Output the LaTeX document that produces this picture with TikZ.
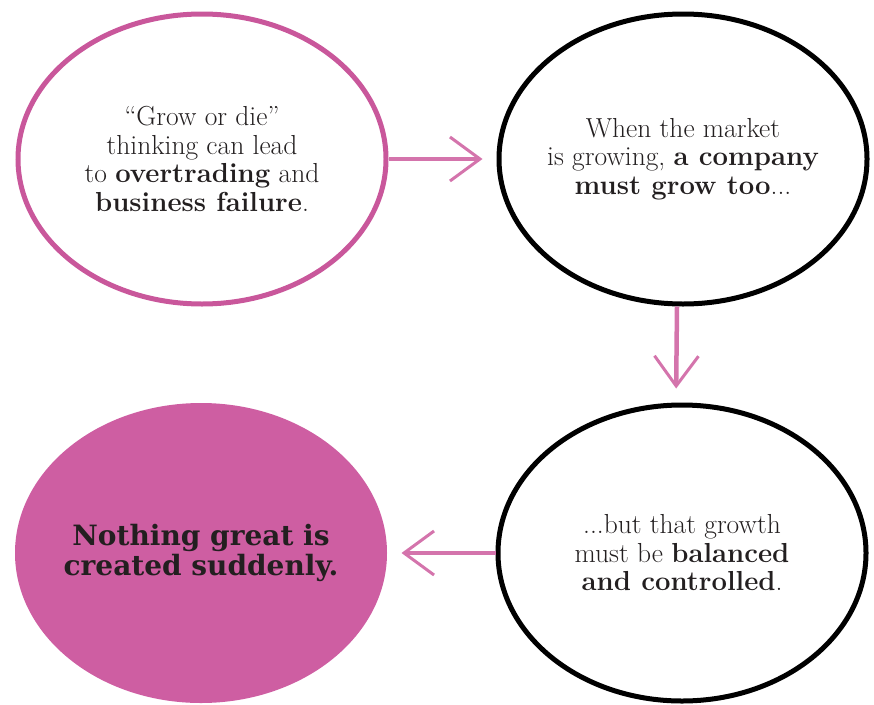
\documentclass[tikz,border=0pt]{standalone}
\usepackage{fontspec}
\usetikzlibrary{shapes.geometric,arrows.meta}
\definecolor{pinkline}{HTML}{C9579B}
\definecolor{pinkfill}{HTML}{CE5EA2}
\definecolor{pinkarrow}{HTML}{D474AC}
\definecolor{ink}{HTML}{231F20}
\newfontfamily\slabfont{DejaVu Serif}
\begin{document}
\begin{tikzpicture}[x=1pt,y=-1pt,
  bubble/.style={ellipse, inner sep=0pt, line width=5pt},
  bubbletext/.style={align=center, text=ink, inner sep=0pt,
    font=\fontsize{27.5}{28.5}\selectfont},
  bigtext/.style={align=center, text=ink, inner sep=0pt,
    font=\slabfont\bfseries\fontsize{28}{30}\selectfont},
  link/.style={pinkarrow, line width=4.5pt,
    -{Straight Barb[length=30pt,width=44pt,line width=3pt]}}]
\useasboundingbox (0,0) rectangle (874,704);
\node[bubble, draw=pinkline, minimum width=368pt, minimum height=290pt,
  label={[bubbletext, name=growtext]center:{“Grow or die”\\thinking can lead\\to \textbf{overtrading} and\\\textbf{business failure}.}}] (grow) at (202,159) {};
\node[bubble, draw=black, minimum width=368pt, minimum height=290pt,
  label={[bubbletext, name=markettext]center:{When the market\\is growing, \textbf{a company}\\\textbf{must grow too}...}}] (market) at (683,159) {};
\node[bubble, draw=black, minimum width=368pt, minimum height=296pt,
  label={[bubbletext, name=balancetext]center:{...but that growth\\must be \textbf{balanced}\\\textbf{and controlled}.}}] (balance) at (682,553) {};
\node[bubble, draw=none, fill=pinkfill, minimum width=372pt, minimum height=300pt,
  label={[bigtext, name=nothingtext]center:{Nothing great is\\created suddenly.}}] (nothing) at (201,553) {};
\draw[link, shorten >=14pt] (grow) -- (market);
\draw[link, shorten >=14pt] ([xshift=-6pt]market.south) -- ([xshift=-6pt]balance.north);
\draw[link, shorten >=12pt] (balance) -- (nothing);
\end{tikzpicture}
\end{document}
